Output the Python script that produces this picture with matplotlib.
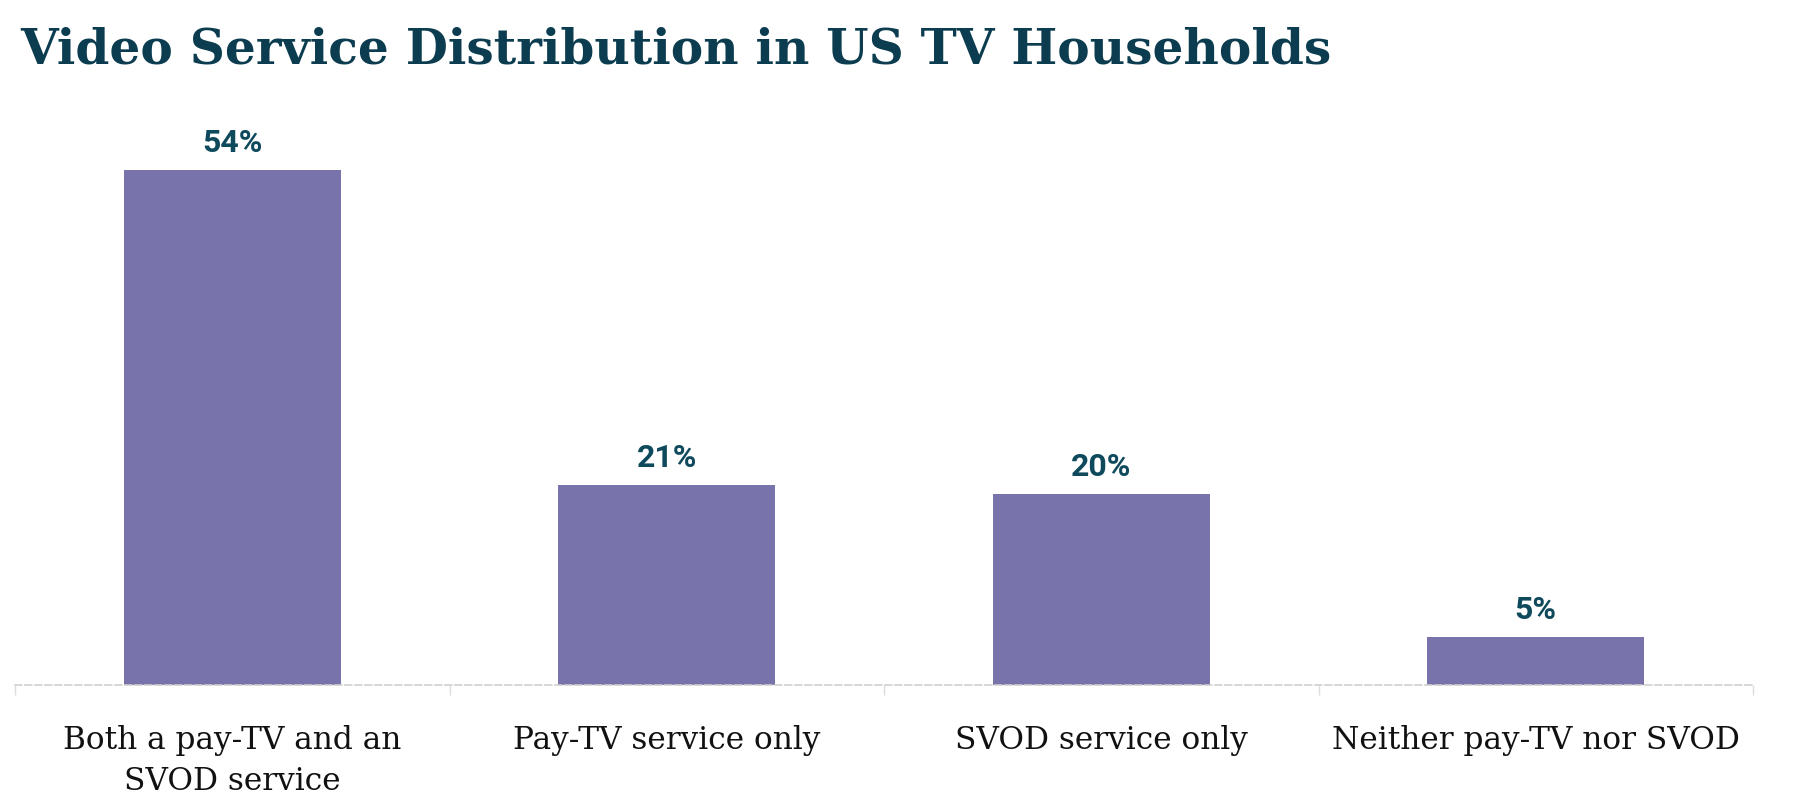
import matplotlib
matplotlib.use("Agg")
import matplotlib.pyplot as plt
import numpy as np

categories = ["Both a pay-TV and an\nSVOD service", "Pay-TV service only",
              "SVOD service only", "Neither pay-TV nor SVOD"]
shares = [54, 21, 20, 5]

bar_color = "#7873ab"
title_color = "#0b3c4f"
label_color = "#0f4a5c"

fig = plt.figure(figsize=(18.02, 8.10), dpi=100)
ax = fig.add_axes([15 / 1802, 0.1543, 1738 / 1802, 0.7062])

x = np.arange(len(categories))
ax.bar(x, shares, width=0.5, color=bar_color, zorder=1)

# percentage labels above each bar
for xi, v in zip(x, shares):
    ax.annotate(f"{v}%", (xi, v), xytext=(0, 13), textcoords="offset points",
                ha="center", va="baseline", fontsize=23, fontweight="bold",
                family="Roboto", color=label_color)

ax.set_xlim(-0.5, len(categories) - 0.5)
ax.set_ylim(0, 60)

for s in ["top", "right", "left"]:
    ax.spines[s].set_visible(False)
ax.spines["bottom"].set_color("#cfcfcf")
ax.spines["bottom"].set_linestyle((0, (4, 2)))
ax.spines["bottom"].set_linewidth(1.2)

ax.set_yticks([])
ax.set_xticks(x)
ax.set_xticklabels(categories, fontsize=22.5, family="DejaVu Serif", color="#111111",
                   linespacing=1.42)
ax.tick_params(axis="x", which="major", length=0, pad=29)
ax.set_xticks(np.arange(-0.5, len(categories)), minor=True)
ax.tick_params(axis="x", which="minor", length=7, color="#dddddd", width=1)

fig.text(20 / 1802, 1 - 63 / 810, "Video Service Distribution in US TV Households",
         fontsize=35, fontweight="bold", family="DejaVu Serif", color=title_color,
         va="baseline", ha="left")

fig.savefig("out.png", dpi=100, facecolor="white")
